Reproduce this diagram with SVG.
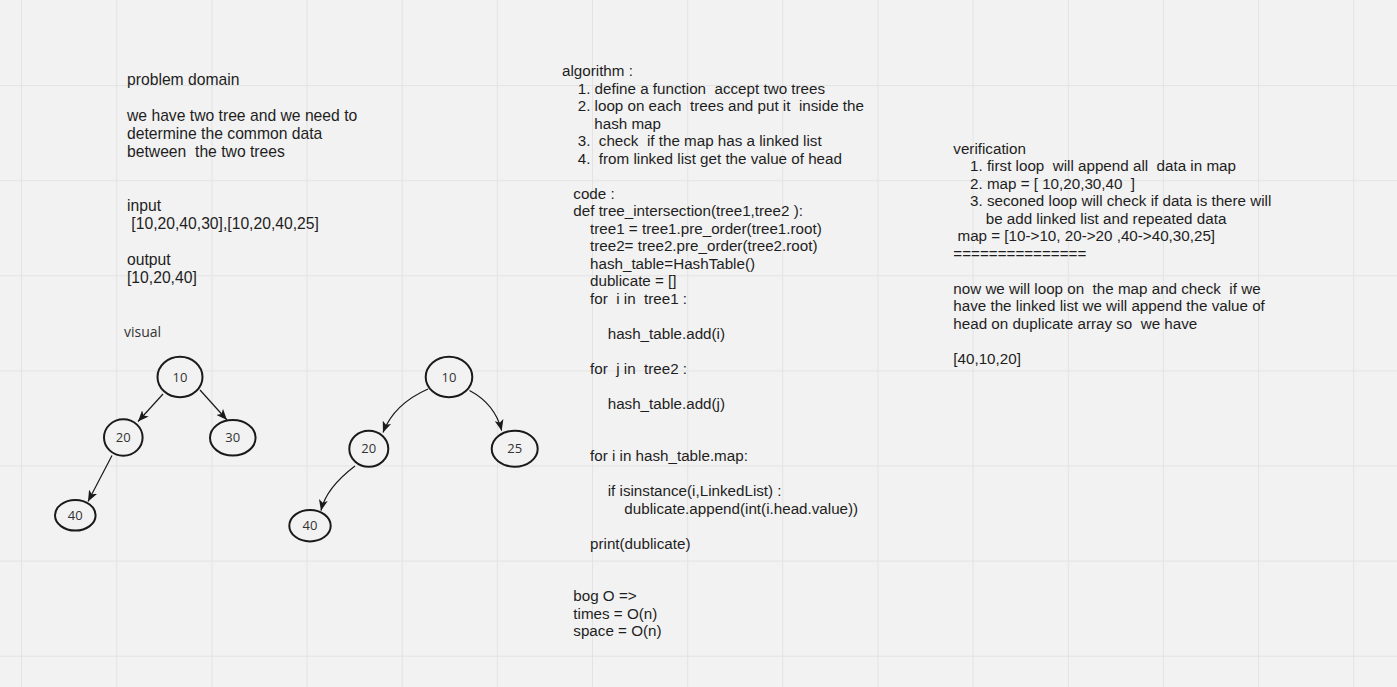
<svg xmlns="http://www.w3.org/2000/svg" width="1397" height="687" viewBox="0 0 1397 687" xml:space="preserve">
<style>
.bg{fill:#f2f2f2}
.grid line{stroke:#e3e3e3;stroke-width:1}
.t{font-family:"Liberation Sans",Arial,sans-serif;font-size:15.2px;fill:#1e1e1e;white-space:pre}
.tl{font-family:"Liberation Sans",Arial,sans-serif;font-size:15.7px;fill:#1e1e1e;white-space:pre}
.nl{font-family:"Open Sans","Noto Sans",sans-serif;font-size:13px;fill:#333;text-anchor:middle}
.vis{font-family:"Open Sans","Noto Sans",sans-serif;font-size:14px;fill:#333}
.node ellipse{fill:#f2f2f2;stroke:#1a1a1a;stroke-width:2}
.edge{fill:none;stroke:#1a1a1a;stroke-width:1.2;marker-end:url(#arr)}
</style>
<defs>
<marker id="arr" viewBox="0 0 11 9" refX="11" refY="4.5" markerWidth="11" markerHeight="9" markerUnits="userSpaceOnUse" orient="auto">
<path d="M0,0 L11,4.5 L0,9 L2.8,4.5 Z" fill="#1a1a1a"/>
</marker>
</defs>
<rect class="bg" x="0" y="0" width="1397" height="687"/>
<g class="grid">
<line x1="21.6" y1="0" x2="21.6" y2="687"/>
<line x1="116.8" y1="0" x2="116.8" y2="687"/>
<line x1="211.9" y1="0" x2="211.9" y2="687"/>
<line x1="307.1" y1="0" x2="307.1" y2="687"/>
<line x1="402.2" y1="0" x2="402.2" y2="687"/>
<line x1="497.4" y1="0" x2="497.4" y2="687"/>
<line x1="592.5" y1="0" x2="592.5" y2="687"/>
<line x1="687.7" y1="0" x2="687.7" y2="687"/>
<line x1="782.8" y1="0" x2="782.8" y2="687"/>
<line x1="878" y1="0" x2="878" y2="687"/>
<line x1="973.1" y1="0" x2="973.1" y2="687"/>
<line x1="1068.3" y1="0" x2="1068.3" y2="687"/>
<line x1="1163.4" y1="0" x2="1163.4" y2="687"/>
<line x1="1258.6" y1="0" x2="1258.6" y2="687"/>
<line x1="1353.7" y1="0" x2="1353.7" y2="687"/>
<line x1="0" y1="85.6" x2="1397" y2="85.6"/>
<line x1="0" y1="180.7" x2="1397" y2="180.7"/>
<line x1="0" y1="275.8" x2="1397" y2="275.8"/>
<line x1="0" y1="370.9" x2="1397" y2="370.9"/>
<line x1="0" y1="466" x2="1397" y2="466"/>
<line x1="0" y1="561.1" x2="1397" y2="561.1"/>
<line x1="0" y1="656.2" x2="1397" y2="656.2"/>
</g>

<g id="problem-domain">
<text class="tl" x="127" y="85">problem domain</text>
<text class="tl" x="127" y="121">we have two tree and we need to</text>
<text class="tl" x="127" y="139">determine the common data</text>
<text class="tl" x="127" y="157">between  the two trees</text>
<text class="tl" x="127" y="211">input</text>
<text class="tl" x="127" y="229"> [10,20,40,30],[10,20,40,25]</text>
<text class="tl" x="127" y="265">output</text>
<text class="tl" x="127" y="283">[10,20,40]</text>
</g>

<g id="visual-label">
<text class="vis" x="124" y="337">visual</text>
</g>

<g id="algorithm">
<text class="t" x="562" y="76">algorithm :</text>
<text class="t" x="577.7" y="93.5">1. define a function  accept two trees</text>
<text class="t" x="577.7" y="111">2. loop on each  trees and put it  inside the</text>
<text class="t" x="594.3" y="128.5">hash map</text>
<text class="t" x="577.7" y="146">3.  check  if the map has a linked list</text>
<text class="t" x="577.7" y="163.5">4.  from linked list get the value of head</text>
<text class="t" x="573.3" y="198.5">code :</text>
<text class="t" x="573.3" y="216">def tree_intersection(tree1,tree2 ):</text>
<text class="t" x="590" y="233.5">tree1 = tree1.pre_order(tree1.root)</text>
<text class="t" x="590" y="251">tree2= tree2.pre_order(tree2.root)</text>
<text class="t" x="590" y="268.5">hash_table=HashTable()</text>
<text class="t" x="590" y="286">dublicate = []</text>
<text class="t" x="590" y="303.5">for  i in  tree1 :</text>
<text class="t" x="607.7" y="338.5">hash_table.add(i)</text>
<text class="t" x="590" y="373.5">for  j in  tree2 :</text>
<text class="t" x="607.7" y="408.5">hash_table.add(j)</text>
<text class="t" x="590" y="461">for i in hash_table.map:</text>
<text class="t" x="607.7" y="496">if isinstance(i,LinkedList) :</text>
<text class="t" x="624.3" y="513.5">dublicate.append(int(i.head.value))</text>
<text class="t" x="590" y="548.5">print(dublicate)</text>
<text class="t" x="573.3" y="601">bog O =&gt;</text>
<text class="t" x="573.3" y="618.5">times = O(n)</text>
<text class="t" x="573.3" y="636">space = O(n)</text>
</g>

<g id="verification">
<text class="t" x="953.3" y="153.5">verification</text>
<text class="t" x="970" y="171">1. first loop  will append all  data in map</text>
<text class="t" x="970" y="188.5">2. map = [ 10,20,30,40  ]</text>
<text class="t" x="970" y="206">3. seconed loop will check if data is there will</text>
<text class="t" x="985.7" y="223.5">be add linked list and repeated data</text>
<text class="t" x="953.3" y="241"> map = [10-&gt;10, 20-&gt;20 ,40-&gt;40,30,25]</text>
<text class="t" x="953.3" y="258.5">===============</text>
<text class="t" x="953.3" y="293.5">now we will loop on  the map and check  if we</text>
<text class="t" x="953.3" y="311">have the linked list we will append the value of</text>
<text class="t" x="953.3" y="328.5">head on duplicate array so  we have</text>
<text class="t" x="953.3" y="363.5">[40,10,20]</text>
</g>

<g id="connectors">
<path class="edge" d="M163,394 L138,421.5"/>
<path class="edge" d="M200,390 L227,420"/>
<path class="edge" d="M112,455.5 L88,501.5"/>
<path class="edge" d="M428,389 Q394,404 383,432.5"/>
<path class="edge" d="M469.5,390.5 Q495,404 501.7,430.7"/>
<path class="edge" d="M355,466 Q326,488 321,510.7"/>
</g>

<g id="t1-10" class="node"><ellipse cx="180" cy="377" rx="22.5" ry="20.3"/><text class="nl" x="180" y="381.5">10</text></g>
<g id="t1-20" class="node"><ellipse cx="123.3" cy="437.5" rx="19.3" ry="18.2"/><text class="nl" x="123.3" y="442">20</text></g>
<g id="t1-30" class="node"><ellipse cx="232.8" cy="437.8" rx="22.8" ry="17.8"/><text class="nl" x="232.8" y="442.3">30</text></g>
<g id="t1-40" class="node"><ellipse cx="75.3" cy="515.3" rx="20.3" ry="15.3"/><text class="nl" x="75.3" y="519.8">40</text></g>

<g id="t2-10" class="node"><ellipse cx="449" cy="377" rx="23.3" ry="20.3"/><text class="nl" x="449" y="381.5">10</text></g>
<g id="t2-20" class="node"><ellipse cx="368.8" cy="448.7" rx="19.5" ry="18"/><text class="nl" x="368.8" y="453.2">20</text></g>
<g id="t2-25" class="node"><ellipse cx="514.7" cy="448.7" rx="23" ry="18"/><text class="nl" x="514.7" y="453.2">25</text></g>
<g id="t2-40" class="node"><ellipse cx="310" cy="525.7" rx="20.7" ry="15.7"/><text class="nl" x="310" y="530.2">40</text></g>
</svg>
